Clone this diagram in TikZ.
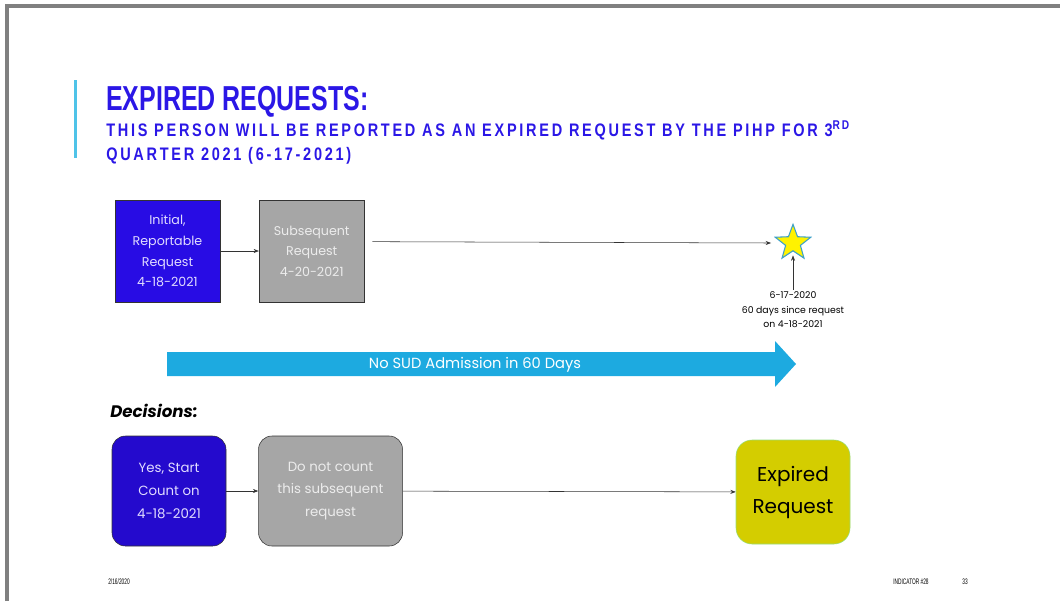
\documentclass[tikz,border=0pt]{standalone}
\usepackage{fontspec}
\setmainfont{Poppins}
\newfontfamily\headfont[FakeStretch=0.72]{Liberation Sans}
\newfontfamily\subfont[FakeStretch=0.8, LetterSpace=15]{Liberation Sans}
\newfontfamily\footfont[FakeStretch=0.6]{Liberation Sans}
\usepackage{xcolor}
\usetikzlibrary{shapes.geometric, arrows.meta, positioning}

\definecolor{titleblue}{RGB}{43,23,230}
\definecolor{barcyan}{RGB}{79,195,232}
\definecolor{framegrey}{RGB}{128,128,128}
\definecolor{boxblue}{RGB}{40,12,228}
\definecolor{boxbluedark}{RGB}{36,10,205}
\definecolor{boxgrey}{RGB}{166,166,166}
\definecolor{lavender}{RGB}{225,220,255}
\definecolor{palegrey}{RGB}{236,236,236}
\definecolor{flowcyan}{RGB}{29,170,224}
\definecolor{expiredfill}{RGB}{212,205,0}
\definecolor{expiredline}{RGB}{150,220,120}
\definecolor{staredge}{RGB}{60,160,200}

\begin{document}
\begin{tikzpicture}[
        x=0.75pt, y=-0.75pt,
        request/.style={rectangle, minimum width=78.75pt, minimum height=76.5pt, align=center, draw=black!80, font=\fontsize{9.5}{15.5}\selectfont},
        decisionbox/.style={rectangle, rounded corners=10pt, minimum height=82.5pt, align=center, draw=black!80, font=\fontsize{10}{17}\selectfont},
        heading/.style={anchor=base west, inner sep=0, text=titleblue},
        arrow/.style={->, >={Stealth[length=4pt, width=3pt]}, black!80}
    ]

    \useasboundingbox (0,0) rectangle (1060,601);

    % --- FRAME & TITLE ---
    \draw[framegrey, line width=3pt] (7,601) -- (7,6) -- (1060,6);
    \draw[barcyan, line width=2.25pt] (75,80) -- (75,158);
    \node (title) [heading, font=\headfont\fontsize{26}{26}\bfseries\selectfont] at (106,110) {EXPIRED REQUESTS:};
    \node (subtitle) [heading, font=\subfont\fontsize{13.6}{18}\bfseries\selectfont] at (106,136)
        {THIS PERSON WILL BE REPORTED AS AN EXPIRED REQUEST BY THE PIHP FOR 3\textsuperscript{RD}};
    \node (quarter) [heading, font=\subfont\fontsize{13.6}{18}\bfseries\selectfont] at (106,160) {QUARTER 2021 (6-17-2021)};

    % --- NODES ---
    \node (initial) [request, fill=boxblue, text=lavender] at (167.5,251) {Initial,\\Reportable\\Request\\4-18-2021};
    \node (subseq) [request, fill=boxgrey, text=palegrey, right=29pt of initial] {Subsequent\\Request\\4-20-2021};
    \node (goal) [star, star points=5, star point ratio=2.4, minimum size=28pt, inner sep=0, fill=yellow, draw=staredge, thick] at (793,243) {};
    \node (dateinfo) [below=29pt of goal, align=center, inner sep=1pt, font=\fontsize{7}{11}\selectfont] {6-17-2020\\60 days since request\\on 4-18-2021};

    % the long blue arrow
    \fill[flowcyan] (167,352) -- (775,352) -- (775,341) -- (796,364) -- (775,387) -- (775,376) -- (167,376) -- cycle;
    \node (window) [text=white, font=\fontsize{11}{11}\selectfont] at (475,365) {No SUD Admission in 60 Days};

    % Decisions
    \node (decisions) [anchor=base west, inner sep=0, font=\fontsize{12.5}{13}\bfseries\itshape\selectfont] at (110,417) {Decisions:};
    \node (startcount) [decisionbox, minimum width=85.5pt, fill=boxbluedark, text=lavender] at (169,491) {Yes, Start\\Count on\\4-18-2021};
    \node (nocount) [decisionbox, minimum width=108pt, fill=boxgrey, text=palegrey, right=24pt of startcount] {Do not count\\this subsequent\\request};
    \node (expired) [rectangle, rounded corners=12pt, minimum width=85.5pt, minimum height=78pt, align=center, fill=expiredfill, draw=expiredline, font=\fontsize{15}{24}\selectfont] at (793,492) {Expired\\Request};

    % footer
    \node (footdate) [font=\footfont\fontsize{6}{6}\selectfont] at (119,582) {2/16/2020};
    \node (footind) [font=\footfont\fontsize{6}{6}\selectfont] at (911,582) {INDICATOR \#28};
    \node (footpage) [font=\footfont\fontsize{6}{6}\selectfont] at (965,582) {33};

    % --- ARROWS ---
    \draw [arrow] (initial) -- (subseq);
    \draw [arrow] ([xshift=6pt, yshift=7pt]subseq.east) -- ([xshift=-8pt]goal.west);
    \draw [arrow] (dateinfo) -- ([yshift=-3pt]goal.south);
    \draw [arrow] (startcount) -- (nocount);
    \draw [arrow] (nocount) -- (expired);

\end{tikzpicture}
\end{document}
